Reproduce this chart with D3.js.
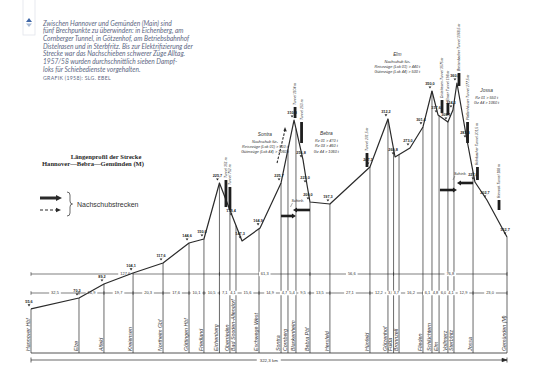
<!DOCTYPE html>
<html>
<head>
<meta charset="utf-8">
<script src="https://cdn.jsdelivr.net/npm/d3@7"></script>
<style>
body { margin: 0; background: #fff; }
svg { display: block; }
</style>
</head>
<body>
<svg></svg>
<script>
const size = {w: 537, h: 385};
const svg = d3.select('svg').attr('width', size.w).attr('height', size.h);

// --- data ---
const introLines = [
  'Zwischen Hannover und Gemünden (Main) sind',
  'fünf Brechpunkte zu überwinden: in Eichenberg, am',
  'Cornberger Tunnel, in Götzenhof, am Betriebsbahnhof',
  'Distelrasen und in Sterbfritz. Bis zur Elektrifizierung der',
  'Strecke war das Nachschieben schwerer Züge Alltag.',
  '1957/58 wurden durchschnittlich sieben Dampf-',
  'loks für Schiebedienste vorgehalten.'
];
const credit = 'Grafik (1958): Slg. Ebel';

const stationNames = ['Hannover Hbf', 'Elze', 'Alfeld', 'Kreiensen', 'Northeim Gbf', 'Göttingen Hbf',
  'Friedland', 'Eichenberg', 'Oberrieden', 'Bad Sooden-Allendorf', 'Eschwege West', 'Sontra',
  'Cornberg', 'Blankenheim', 'Bebra Pbf', 'Hersfeld', 'Hünfeld', 'Götzenhof', 'Fulda', 'Bronnzell',
  'Flieden', 'Schlüchtern', 'Elm', 'Vollmerz', 'Sterbfritz', 'Jossa', 'Gemünden (M)'];
const stationKm = [0, 32.5, 49.4, 69.1, 89.4, 107.0, 117.1, 127.6, 134.7, 138.8, 154.4, 169.3,
  174.0, 179.4, 188.9, 202.4, 229.5, 241.7, 245.5, 249.2, 265.4, 271.5, 276.3, 282.3, 286.4, 299.3, 322.3];

// main section points (Hannover, Eichenberg, Bebra, Fulda, Gemünden)
const sectionKm = [0, 127.6, 188.9, 245.5, 322.3];
const sectionLabels = ['127,6', '61,3', '56,6', '76,8'];
const totalLabel = '322,3 km';

// profile break points: km and height (m above sea level)
const profileKm = [0, 32.5, 49.4, 69.1, 89.4, 107.0, 117.1, 127.6, 136.8, 142.9, 155.1, 169.3,
  178.1, 184.2, 186.9, 188.9, 202.4, 229.5, 241.7, 246.5, 256.6, 265.4, 271.5, 275.6, 282.3,
  285.7, 288.4, 295.2, 300.6, 308.7, 322.3];
const profileElev = [55.6, 70.3, 89.2, 104.1, 117.6, 144.6, 150.0, 225.7, 178.4, 147.3, 164.9, 225.7,
  310.8, 256.8, 223.0, 200.0, 197.3, 247.3, 312.2, 260.8, 273.0, 301.4, 350.0, 317.6, 308.1,
  324.3, 360.8, 283.8, 227.0, 202.7, 152.7];

// tunnels: km, top and bottom of the bar (m), label
const tunnelKm = [132.0, 134.7, 178.8, 183.2, 227.5, 278.3, 282.3, 289.8, 295.6, 302.3, 316.9];
const tunnelTop = [229.7, 220.3, 328.4, 308.1, 266.2, 337.8, 333.8, 374.3, 308.1, 247.3, 202.7];
const tunnelBottom = [193.2, 189.2, 313.5, 279.7, 247.3, 320.3, 317.6, 356.8, 279.7, 229.7, 189.2];
const tunnelNames = ['Tunnel 351 m', 'Tunnel 752 m', 'Tunnel 1104 m', 'Tunnel 253 m', 'Tunnel 201,5 m',
  'Distelrasen-Tunnel 3575 m', 'Elmer Tunnel 198 m', 'Breitenbacher Tunnel 1068,5 m',
  'Pfaffenhäuser Tunnel 277,5 m', 'Rohrbacher Tunnel 201,5 m', 'Rieneck-Tunnel 188 m'];

// pusher sections (thick arrows): from km, to km, height of the arrow
const pushFrom = [169.3, 188.9, 276.9, 299.3];
const pushTo = [179.4, 177.4, 288.4, 288.4];
const pushElev = [181.1, 189.2, 216.2, 225.7];

// pusher notes
const notes = [
  {km: 158.4, elev: 289, lines: ['Sontra', 'Nachschub für-', 'Reisezüge (Lok 01) > 510 t', 'Güterzüge (Lok 44) > 1060 t']},
  {km: 200.0, elev: 290, lines: ['Bebra', 'Rz 01 >  470 t', 'Rz 03 >  460 t', 'Gz 44 > 1060 t']},
  {km: 248.0, elev: 397, lines: ['Elm', 'Nachschub für-', 'Reisezüge (Lok 01) > 440 t', 'Güterzüge (Lok 44) > 500 t']},
  {km: 308.5, elev: 348, lines: ['Jossa', 'Rz 01 >  550 t', 'Gz 44 > 1060 t']}
];

// --- scales ---
const x = d3.scaleLinear().domain([0, 322.3]).range([31, 507]);
const y = d3.scaleLinear().domain([0, 400]).range([350, 54]);
const baseY = 353;
const fmt = v => d3.format('.1f')(v).replace('.', ',');
const ink = '#2a2a2a';

// --- intro text ---
const intro = svg.append('g').attr('fill', '#5d6884')
  .style('font-family', 'Lato, "Open Sans", sans-serif').style('font-style', 'italic');
intro.selectAll('text').data(introLines).join('text')
  .attr('x', 43).attr('y', (d, i) => 25.5 + i * 7.7)
  .attr('font-size', 6.6).text(d => d);
intro.append('text').attr('x', 43).attr('y', 25.5 + 7 * 7.7 + 0.5)
  .attr('font-size', 5.2).style('font-style', 'normal')
  .style('text-transform', 'uppercase').attr('letter-spacing', 0.3).text(credit);

// small side tab
svg.append('rect').attr('x', 23).attr('y', -1).attr('width', 12).attr('height', 36)
  .attr('fill', 'none').attr('stroke', '#e2e4ea').attr('stroke-width', 0.8);
svg.append('path').attr('d', 'M29,18 L32,22 L26,22 Z').attr('fill', '#3f67a8');
svg.append('path').attr('d', 'M26,23.5 L32,23.5 L29,27 Z').attr('fill', '#a9bbd6');

// --- title and legend ---
const title = svg.append('g').attr('fill', ink).attr('text-anchor', 'middle')
  .style('font-family', '"Liberation Serif", "DejaVu Serif", serif').style('font-weight', 'bold');
title.append('text').attr('x', 106).attr('y', 158.5).attr('font-size', 6.6).text('Längenprofil der Strecke');
title.append('text').attr('x', 93).attr('y', 165.7).attr('font-size', 6.6).text('Hannover—Bebra—Gemünden (M)');

const legend = svg.append('g').attr('stroke', ink).attr('fill', ink);
legend.append('line').attr('x1', 40).attr('x2', 57).attr('y1', 198).attr('y2', 198).attr('stroke-width', 3);
legend.append('path').attr('d', 'M56,195 L62,198 L56,201 Z').attr('stroke', 'none');
legend.append('line').attr('x1', 40).attr('x2', 57).attr('y1', 210).attr('y2', 210)
  .attr('stroke-width', 1.2).attr('stroke-dasharray', '3,2');
legend.append('path').attr('d', 'M56,207.8 L61,210 L56,212.2 Z').attr('stroke', 'none');
legend.append('path').attr('fill', 'none').attr('stroke-width', 0.7)
  .attr('d', 'M67,192 q3,0 3,3 v6 q0,3 2.5,3 q-2.5,0 -2.5,3 v6 q0,3 -3,3');
legend.append('text').attr('x', 77).attr('y', 206.5).attr('stroke', 'none').attr('fill', '#333')
  .attr('font-size', 7).style('font-family', '"Liberation Sans", sans-serif').text('Nachschubstrecken');

// --- profile ---
const profile = profileKm.map((k, i) => ({km: k, elev: profileElev[i]}));
const elevAt = k => {
  const i = d3.bisector(d => d.km).left(profile, k);
  if (i <= 0) return profile[0].elev;
  if (i >= profile.length) return profile[profile.length - 1].elev;
  const a = profile[i - 1], b = profile[i];
  return a.elev + (b.elev - a.elev) * (k - a.km) / (b.km - a.km);
};

const stations = stationNames.map((n, i) => ({name: n, km: stationKm[i]}));

// station verticals
svg.append('g').attr('stroke', ink).attr('stroke-width', 0.7)
  .selectAll('line').data(stations).join('line')
  .attr('x1', d => x(d.km)).attr('x2', d => x(d.km))
  .attr('y1', baseY).attr('y2', d => y(elevAt(d.km)));

// base line
svg.append('line').attr('x1', x(0)).attr('x2', x(322.3)).attr('y1', baseY).attr('y2', baseY)
  .attr('stroke', ink).attr('stroke-width', 0.8);

// station names
svg.append('g').attr('fill', '#333').attr('font-size', 5.3)
  .style('font-family', '"Liberation Sans", sans-serif').style('font-style', 'italic')
  .selectAll('text').data(stations).join('text')
  .attr('transform', d => `translate(${x(d.km) - 1.2},${baseY - 2}) rotate(-90)`)
  .text(d => d.name);

// dimension lines
const dims = svg.append('g').attr('stroke', ink).attr('stroke-width', 0.6);
const dimLabels = svg.append('g').attr('fill', '#333').attr('font-size', 4)
  .attr('text-anchor', 'middle').style('font-family', '"Liberation Sans", sans-serif');

function dimLine(yy, cuts, labels) {
  dims.append('line').attr('x1', x(0)).attr('x2', x(322.3)).attr('y1', yy).attr('y2', yy);
  dims.selectAll(null).data(cuts).join('line')
    .attr('x1', d => x(d)).attr('x2', d => x(d)).attr('y1', yy - 1.8).attr('y2', yy + 1.8);
  const segs = d3.pairs(cuts).map((p, i) => ({mid: (p[0] + p[1]) / 2, label: labels[i]}));
  const g = dimLabels.append('g').selectAll('g').data(segs).join('g')
    .attr('transform', d => `translate(${x(d.mid)},${yy + 1.4})`);
  g.append('rect').attr('x', d => -d.label.length * 1.2 - 1).attr('y', -3.6)
    .attr('width', d => d.label.length * 2.4 + 2).attr('height', 4.4).attr('fill', '#fff');
  g.append('text').text(d => d.label);
}
dimLine(274, sectionKm, sectionLabels);
dimLine(293, stationKm, d3.pairs(stationKm).map(p => fmt(p[1] - p[0])));

// total length
const tot = svg.append('g').attr('stroke', ink).attr('stroke-width', 0.7);
tot.append('line').attr('x1', x(0)).attr('x2', x(322.3)).attr('y1', 360).attr('y2', 360);
tot.append('line').attr('x1', x(0)).attr('x2', x(0)).attr('y1', 357.5).attr('y2', 362.5);
tot.append('line').attr('x1', x(322.3)).attr('x2', x(322.3)).attr('y1', 357.5).attr('y2', 362.5);
tot.append('path').attr('d', `M${x(322.3) - 5},358.3 L${x(322.3)},360 L${x(322.3) - 5},361.7 Z`).attr('fill', ink);
tot.append('rect').attr('x', x(161) - 12).attr('y', 357).attr('width', 24).attr('height', 6).attr('fill', '#fff').attr('stroke', 'none');
tot.append('text').attr('x', x(161)).attr('y', 361.6).attr('text-anchor', 'middle').attr('stroke', 'none')
  .attr('fill', '#333').attr('font-size', 4.4).style('font-family', '"Liberation Sans", sans-serif').text(totalLabel);

// profile line
svg.append('path').datum(profile)
  .attr('d', d3.line().x(d => x(d.km)).y(d => y(d.elev)))
  .attr('fill', 'none').attr('stroke', ink).attr('stroke-width', 1.2).attr('stroke-linejoin', 'round');

// height marks
const hm = svg.append('g').selectAll('g').data(profile).join('g')
  .attr('transform', d => `translate(${x(d.km) - 2},${y(d.elev) - 3})`);
hm.append('text').attr('y', -2.6).attr('text-anchor', 'middle').attr('font-size', 3.8)
  .attr('font-weight', 'bold').attr('fill', '#222')
  .style('font-family', '"Liberation Sans", sans-serif').text(d => fmt(d.elev));
hm.append('path').attr('d', 'M-1.4,-1.6 L1.4,-1.6 L0,0.6 Z').attr('fill', '#222');

// tunnels
const tunnels = tunnelKm.map((k, i) => ({km: k, top: tunnelTop[i], bottom: tunnelBottom[i], name: tunnelNames[i]}));
svg.append('g').attr('fill', '#1e1e1e').selectAll('rect').data(tunnels).join('rect')
  .attr('x', d => x(d.km) - 1.4).attr('width', 2.8)
  .attr('y', d => y(d.top)).attr('height', d => y(d.bottom) - y(d.top));
svg.append('g').attr('fill', '#333').attr('font-size', 3.4)
  .style('font-family', '"Liberation Sans", sans-serif').style('font-style', 'italic')
  .selectAll('text').data(tunnels).join('text')
  .attr('transform', d => `translate(${x(d.km) + 1},${y(d.top) - 2}) rotate(-90)`)
  .text(d => d.name);

// pusher arrows
const pushes = pushFrom.map((f, i) => ({from: f, to: pushTo[i], elev: pushElev[i]}));
const pg = svg.append('g').attr('fill', '#1e1e1e').attr('stroke', '#1e1e1e');
pg.selectAll('line').data(pushes).join('line')
  .attr('x1', d => x(d.from)).attr('y1', d => y(d.elev))
  .attr('x2', d => x(d.to) - Math.sign(d.to - d.from) * 3).attr('y2', d => y(d.elev))
  .attr('stroke-width', 2.6);
pg.selectAll('path').data(pushes).join('path').attr('stroke', 'none')
  .attr('d', d => {
    const s = Math.sign(d.to - d.from), tx = x(d.to), ty = y(d.elev);
    return `M${tx - s * 4},${ty - 2.4} L${tx},${ty} L${tx - s * 4},${ty + 2.4} Z`;
  });
// "Schieb." labels at the meeting points
const sch = svg.append('g').attr('font-size', 3.8).attr('fill', '#333')
  .style('font-family', '"Liberation Sans", sans-serif').style('font-style', 'italic');
[[0, 1], [2, 3]].forEach(([a, b]) => {
  const mk = (pushes[a].to + pushes[b].to) / 2;
  const ey = Math.max(pushes[a].elev, pushes[b].elev);
  sch.append('text').attr('x', x(mk) - 3).attr('y', y(ey) - 8).text('Schieb.');
  sch.append('line').attr('x1', x(mk) - 2).attr('y1', y(ey) - 7).attr('x2', x(mk) - 4).attr('y2', y(ey) - 3)
    .attr('stroke', '#333').attr('stroke-width', 0.4);
});

// dashed pusher arrow on the Cornberg ramp
const dStart = {km: 166.6, elev: 252.7}, dEnd = {km: 172.0, elev: 297.3};
svg.append('line').attr('x1', x(dStart.km)).attr('y1', y(dStart.elev))
  .attr('x2', x(dEnd.km)).attr('y2', y(dEnd.elev))
  .attr('stroke', ink).attr('stroke-width', 1.1).attr('stroke-dasharray', '2.5,1.5');
svg.append('path').attr('fill', ink)
  .attr('d', `M${x(dEnd.km)},${y(dEnd.elev) - 3} L${x(dEnd.km) + 1.8},${y(dEnd.elev) + 1.5} L${x(dEnd.km) - 1.6},${y(dEnd.elev) + 0.8} Z`);

// notes
const ng = svg.append('g').attr('fill', '#333').attr('text-anchor', 'middle')
  .style('font-family', '"Liberation Sans", sans-serif').style('font-style', 'italic');
notes.forEach(n => {
  ng.selectAll(null).data(n.lines).join('text')
    .attr('x', x(n.km)).attr('y', (d, i) => y(n.elev) + i * 5.4 + (i > 0 ? 1 : 0))
    .attr('font-size', (d, i) => i === 0 ? 4.8 : 3.8).text(d => d);
});
</script>
</body>
</html>
